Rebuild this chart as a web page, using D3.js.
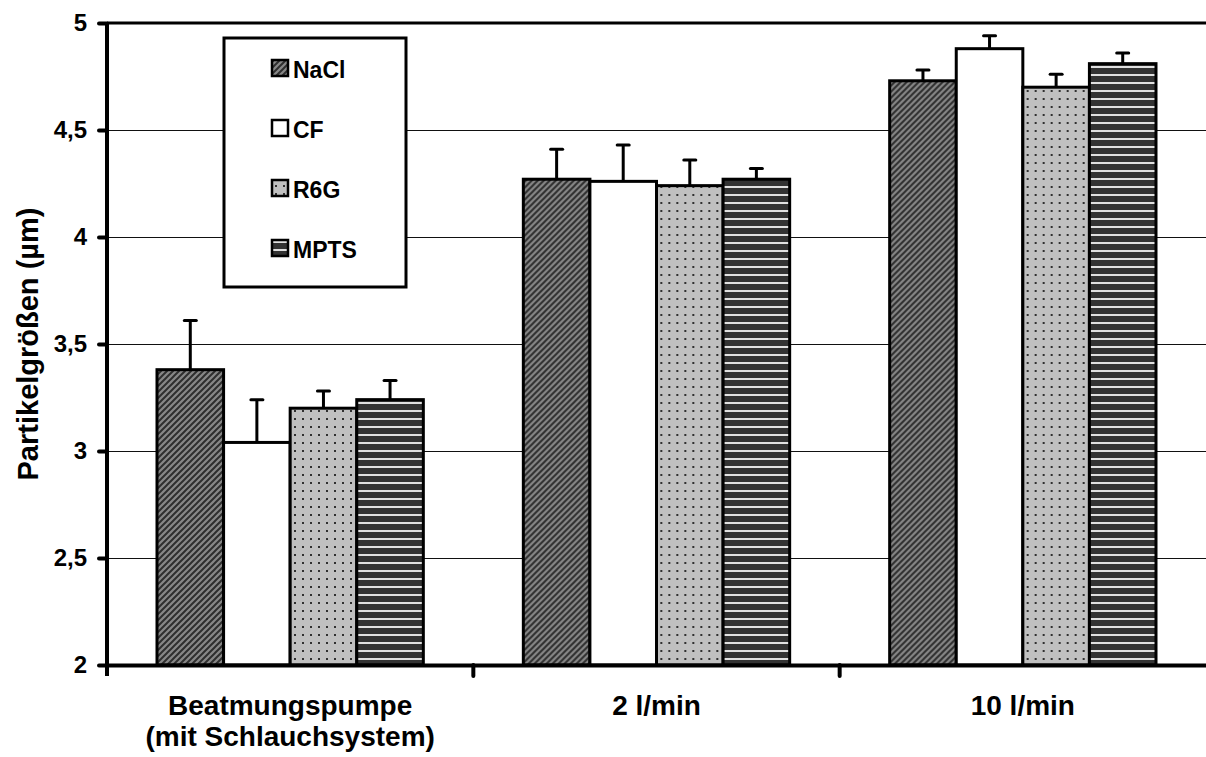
<!DOCTYPE html>
<html>
<head>
<meta charset="utf-8">
<script src="https://cdn.jsdelivr.net/npm/d3@7"></script>
<style>
  body { margin: 0; background: #fff; }
  text { font-family: Arial, "Liberation Sans", sans-serif; font-weight: bold; }
</style>
</head>
<body>
<svg id="chart"></svg>
<script>
const svg_width = 1206;
const svg_height = 757;

// data
const categories = ['Beatmungspumpe\n(mit Schlauchsystem)', '2 l/min', '10 l/min'];
const series = ['NaCl', 'CF', 'R6G', 'MPTS'];
const values = [
	[3.38, 3.04, 3.20, 3.24],
	[4.27, 4.26, 4.24, 4.27],
	[4.73, 4.88, 4.70, 4.81]
];
const errors = [
	[0.23, 0.20, 0.08, 0.09],
	[0.14, 0.17, 0.12, 0.05],
	[0.05, 0.06, 0.06, 0.05]
];
const yTicks = [2, 2.5, 3, 3.5, 4, 4.5, 5];

const margin = {top: 23, right: 0, bottom: 92, left: 107};
const innerWidth = svg_width - margin.left - margin.right;
const innerHeight = svg_height - margin.top - margin.bottom;

const svg = d3.select('#chart')
	.attr('width', svg_width)
	.attr('height', svg_height);

// patterns
const defs = svg.append('defs');

const pDiag = defs.append('pattern').attr('id', 'p-nacl')
	.attr('patternUnits', 'userSpaceOnUse').attr('width', 6).attr('height', 6);
pDiag.append('rect').attr('width', 6).attr('height', 6).attr('fill', '#878787');
pDiag.append('path').attr('d', 'M-1,7 L7,-1 M-4,4 L4,-4 M2,10 L10,2')
	.attr('stroke', '#2e2e2e').attr('stroke-width', 2);

const pDots = defs.append('pattern').attr('id', 'p-r6g')
	.attr('patternUnits', 'userSpaceOnUse').attr('width', 8).attr('height', 8);
pDots.append('rect').attr('width', 8).attr('height', 8).attr('fill', '#c0c0c0');
pDots.append('rect').attr('x', 3).attr('y', 3).attr('width', 2).attr('height', 2).attr('fill', '#303030');

const pLines = defs.append('pattern').attr('id', 'p-mpts')
	.attr('patternUnits', 'userSpaceOnUse').attr('width', 8).attr('height', 8);
pLines.append('rect').attr('width', 8).attr('height', 8).attr('fill', '#333');
pLines.append('rect').attr('y', 3).attr('width', 8).attr('height', 2).attr('fill', '#e0e0e0');

const fills = {NaCl: 'url(#p-nacl)', CF: '#fff', R6G: 'url(#p-r6g)', MPTS: 'url(#p-mpts)'};

const g = svg.append('g').attr('transform', `translate(${margin.left}, ${margin.top})`);

const x0 = d3.scaleBand().domain(categories).range([0, innerWidth]).paddingInner(0).paddingOuter(0);
const x1 = d3.scaleBand().domain(series).range([50, x0.bandwidth() - 50]).padding(0);
const y = d3.scaleLinear().domain([2, 5]).range([innerHeight, 0]);

// gridlines
g.selectAll('.grid').data(yTicks.filter(d => d > 2 && d < 5)).enter()
	.append('line')
	.attr('x1', 0).attr('x2', innerWidth)
	.attr('y1', d => y(d)).attr('y2', d => y(d))
	.attr('stroke', '#111').attr('stroke-width', 1)
	.attr('shape-rendering', 'crispEdges');

// top frame line
g.append('line').attr('x1', 0).attr('x2', innerWidth).attr('y1', y(5)).attr('y2', y(5))
	.attr('stroke', '#000').attr('stroke-width', 3);

// bars
const groups = g.selectAll('.grp').data(categories).enter()
	.append('g').attr('transform', d => `translate(${x0(d)},0)`);

groups.each(function(cat, ci) {
	const grp = d3.select(this);
	series.forEach((s, si) => {
		const v = values[ci][si];
		const e = errors[ci][si];
		const cx = x1(s) + x1.bandwidth() / 2;
		grp.append('line')
			.attr('x1', cx).attr('x2', cx).attr('y1', y(v)).attr('y2', y(v + e))
			.attr('stroke', '#000').attr('stroke-width', 3);
		grp.append('line')
			.attr('x1', cx - 6).attr('x2', cx + 6).attr('y1', y(v + e)).attr('y2', y(v + e))
			.attr('stroke', '#000').attr('stroke-width', 3).attr('stroke-linecap', 'round');
	});
	series.forEach((s, si) => {
		const v = values[ci][si];
		grp.append('rect')
			.attr('x', x1(s)).attr('width', x1.bandwidth())
			.attr('y', y(v)).attr('height', y(2) - y(v))
			.attr('fill', fills[s])
			.attr('stroke', '#000').attr('stroke-width', 3);
	});
});

// y axis
const yAxis = g.append('g').call(d3.axisLeft(y).tickValues(yTicks).tickSize(10)
	.tickFormat(d => String(d).replace('.', ',')));
yAxis.select('.domain').attr('stroke-width', 4).attr('d', `M0,${y(5)}V${y(2) + 11}`);
yAxis.selectAll('.tick line').attr('stroke-width', 4).attr('stroke-linecap', 'round').attr('x2', -8);
yAxis.selectAll('.tick text').attr('font-size', 24).attr('x', -20).attr('fill', '#000');

// x axis
const xAxis = g.append('g').attr('transform', `translate(0, ${innerHeight})`)
	.call(d3.axisBottom(x0).tickValues([]).tickSizeOuter(0));
xAxis.select('.domain').attr('stroke-width', 4);
g.selectAll('.xtick').data(categories.slice(1)).enter().append('line')
	.attr('x1', d => x0(d)).attr('x2', d => x0(d))
	.attr('y1', innerHeight).attr('y2', innerHeight + 11)
	.attr('stroke', '#000').attr('stroke-width', 4).attr('stroke-linecap', 'round');

categories.forEach(cat => {
	const lines = cat.split('\n');
	const t = g.append('text')
		.attr('x', x0(cat) + x0.bandwidth() / 2)
		.attr('y', 715 - margin.top)
		.attr('text-anchor', 'middle')
		.attr('font-size', 28);
	lines.forEach((ln, i) => {
		t.append('tspan').attr('x', x0(cat) + x0.bandwidth() / 2)
			.attr('dy', i === 0 ? 0 : 31).text(ln);
	});
});

// y title
svg.append('text')
	.attr('transform', `translate(38, ${margin.top + innerHeight / 2}) rotate(-90)`)
	.attr('text-anchor', 'middle')
	.attr('font-size', 29)
	.text('Partikelgrößen (µm)');

// legend
const legend = svg.append('g').attr('transform', 'translate(224, 38)');
legend.append('rect').attr('width', 182).attr('height', 249)
	.attr('fill', '#fff').attr('stroke', '#000').attr('stroke-width', 3);
series.forEach((s, i) => {
	const ly = 40 + i * 60;
	legend.append('rect').attr('x', 48).attr('y', ly - 18).attr('width', 16).attr('height', 16)
		.attr('fill', fills[s]).attr('stroke', '#000').attr('stroke-width', 2.5);
	legend.append('text').attr('x', 69).attr('y', ly).attr('font-size', 23).text(s);
});
</script>
</body>
</html>
